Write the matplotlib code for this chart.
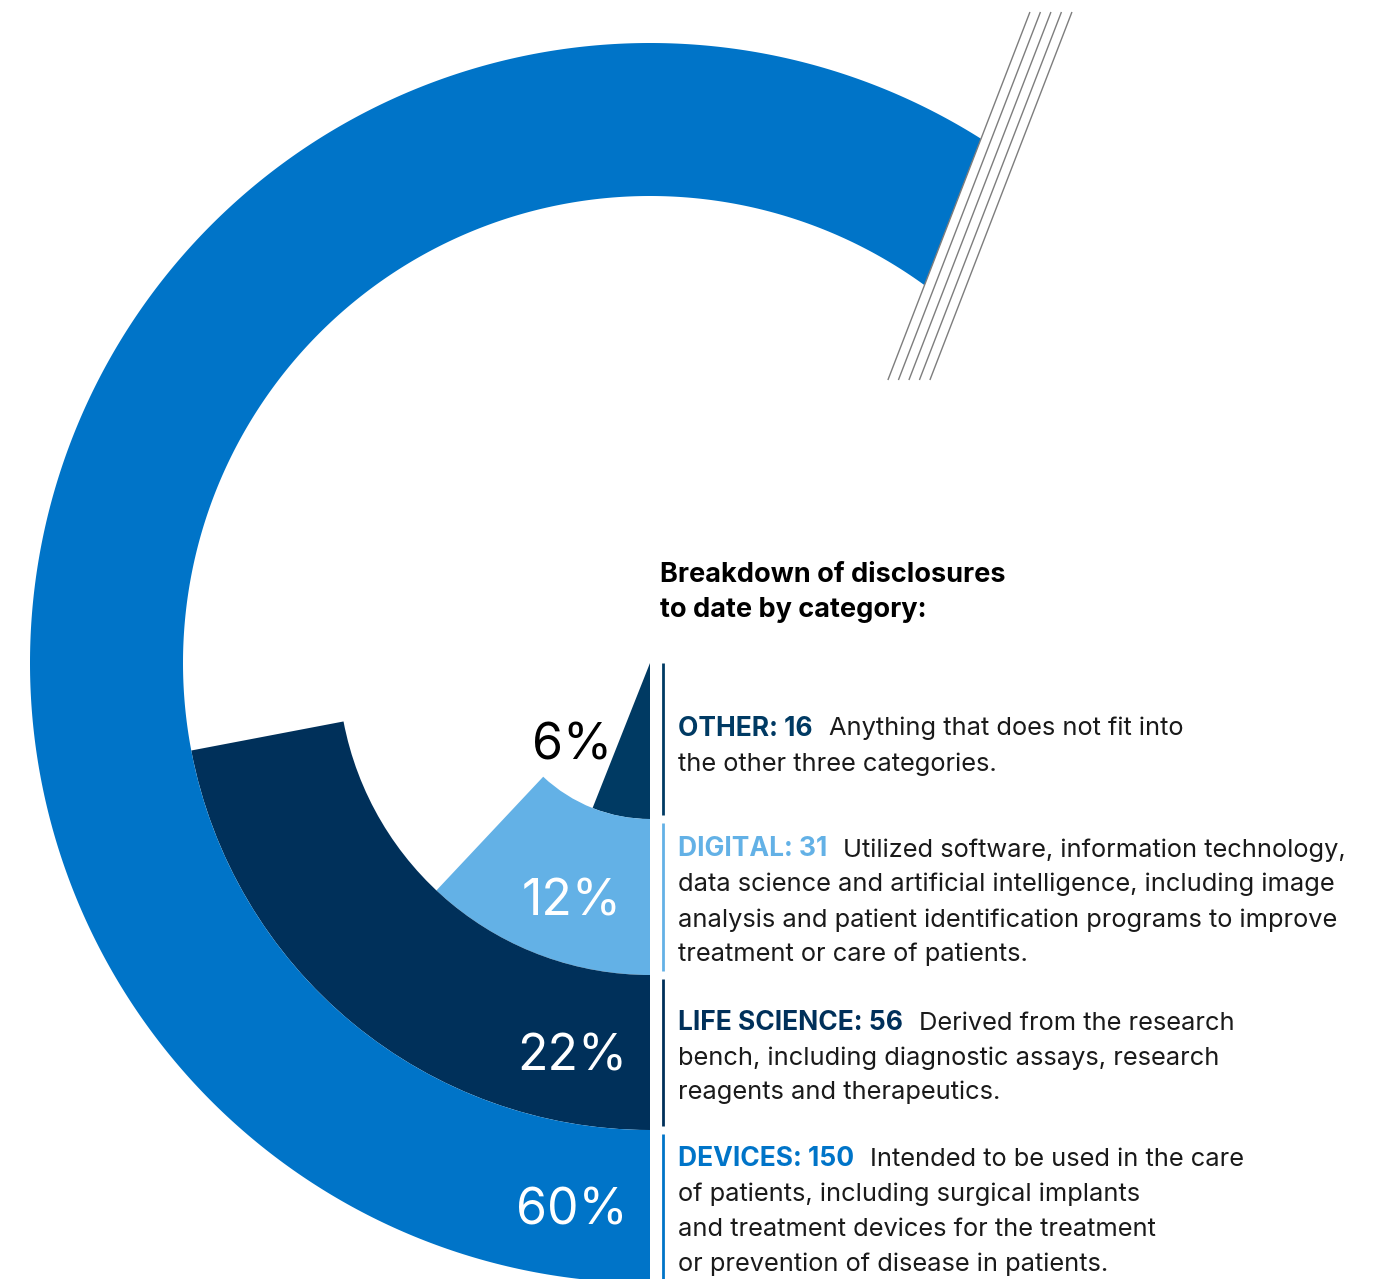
"""
Anillos concéntricos con el desglose de divulgaciones por categoría.
Cada categoría ocupa un anillo; el ángulo recorrido es su porcentaje.
"""
import numpy as np
import matplotlib
matplotlib.use("Agg")  # backend sin ventana
import matplotlib.pyplot as plt
from matplotlib.patches import Polygon, Wedge

# ---------------------------------------------------------------- datos
categorias = ["OTHER", "DIGITAL", "LIFE SCIENCE", "DEVICES"]
conteos = [16, 31, 56, 150]
porcentajes = [6, 12, 22, 60]
descripciones = [
    ["Anything that does not fit into",
     "the other three categories."],
    ["Utilized software, information technology,",
     "data science and artificial intelligence, including image",
     "analysis and patient identification programs to improve",
     "treatment or care of patients."],
    ["Derived from the research",
     "bench, including diagnostic assays, research",
     "reagents and therapeutics."],
    ["Intended to be used in the care",
     "of patients, including surgical implants",
     "and treatment devices for the treatment",
     "or prevention of disease in patients."],
]
titulo = ["Breakdown of disclosures", "to date by category:"]

# ---------------------------------------------------------------- estilo
colores = ["#003A63", "#63B1E6", "#00305A", "#0074C8"]
color_pct = ["black", "white", "white", "white"]
FUENTE = ["Inter", "DejaVu Sans"]
ANCHO, ALTO = 1389, 1279
CENTRO = np.array([650.0, 663.0])
RADIOS = [0, 156, 312, 467, 620]       # bordes de los anillos (px)
PENDIENTE_CORTE = 0.386                # dx/dy de las líneas diagonales
X_BARRA, X_TEXTO, INTERLINEA = 663, 678, 35


def _punto(r, ang):
    a = np.radians(ang)
    return CENTRO + r * np.array([np.cos(a), np.sin(a)])


fig = plt.figure(figsize=(ANCHO / 100, ALTO / 100), dpi=100)
ax = fig.add_axes([0, 0, 1, 1])
ax.set_xlim(0, ANCHO)
ax.set_ylim(ALTO, 0)   # eje y hacia abajo: ángulos crecientes = sentido horario
ax.set_aspect("equal")
ax.axis("off")

# Anillos: empiezan abajo (90° con y invertido) y giran en sentido horario
for i, (pct, color) in enumerate(zip(porcentajes, colores)):
    r_in, r_out = RADIOS[i], RADIOS[i + 1]
    fin = 90 + 3.6 * pct
    if i < len(categorias) - 1:
        ancho = None if r_in == 0 else r_out - r_in
        ax.add_patch(Wedge(CENTRO, r_out, 90, fin, width=ancho,
                           facecolor=color, edgecolor="none"))
    else:
        # el anillo exterior termina cortado por las líneas diagonales
        p = _punto(r_in, fin)
        d = np.array([PENDIENTE_CORTE, -1.0])
        d /= np.linalg.norm(d)
        v = p - CENTRO
        vd = v @ d
        t = -vd + np.sqrt(vd ** 2 - v @ v + r_out ** 2)
        q = p + t * d
        ang_q = np.degrees(np.arctan2(*(q - CENTRO)[::-1])) % 360
        ext = [_punto(r_out, a) for a in np.linspace(90, ang_q, 400)]
        inte = [_punto(r_in, a) for a in np.linspace(fin, 90, 400)]
        ax.add_patch(Polygon(np.array(ext + inte), closed=True,
                             facecolor=color, edgecolor="none"))
        # líneas diagonales decorativas
        for k in range(5):
            ys = np.array([12, 380])
            xs = p[0] + k * 10.5 - PENDIENTE_CORTE * (ys - p[1])
            ax.plot(xs, ys, color="#7d7d7d", linewidth=1.0,
                    solid_capstyle="butt")

    # etiqueta de porcentaje en el radio medio
    r_med = (r_in + r_out) / 2
    ax.text(CENTRO[0] - 78, CENTRO[1] + r_med + 18, f"{pct}%",
            ha="center", va="baseline", fontsize=36,
            color=color_pct[i], family=FUENTE)

# Título
for j, linea in enumerate(titulo):
    ax.text(660, 582 + j * 35, linea, ha="left", va="baseline",
            fontsize=19.5, fontweight="bold", color="black", family=FUENTE)

# Barras verticales y bloques de texto
renderer = fig.canvas.get_renderer()
for i, (cat, n, lineas, color) in enumerate(
        zip(categorias, conteos, descripciones, colores)):
    r_in, r_out = RADIOS[i], RADIOS[i + 1]
    y0 = CENTRO[1] + (r_in + 4 if r_in > 0 else 0)
    y1 = CENTRO[1] + r_out - 4 if i < len(categorias) - 1 else ALTO + 5
    ax.plot([X_BARRA, X_BARRA], [y0, y1], color=color, linewidth=2.0,
            solid_capstyle="butt")

    y_centro = (CENTRO[1] + r_in + CENTRO[1] + r_out) / 2
    y_base = y_centro - (len(lineas) - 1) / 2 * INTERLINEA + 12
    etiqueta = ax.text(X_TEXTO, y_base, f"{cat}: {n}", ha="left",
                       va="baseline", fontsize=19, fontweight="bold",
                       color=color, family=FUENTE)
    ancho_px = etiqueta.get_window_extent(renderer).width
    for j, linea in enumerate(lineas):
        x = X_TEXTO + ancho_px + 16 if j == 0 else X_TEXTO
        ax.text(x, y_base + j * INTERLINEA, linea, ha="left",
                va="baseline", fontsize=18.3, color="#1a1a1a",
                family=FUENTE)

fig.savefig("out.png", dpi=100)
plt.close(fig)
